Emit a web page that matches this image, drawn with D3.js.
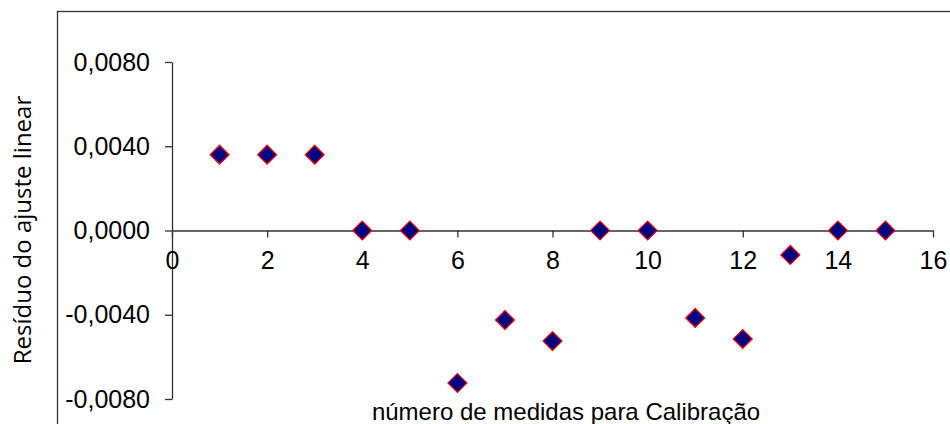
<!DOCTYPE html>
<html>
<head>
<meta charset="utf-8">
<script src="https://cdn.jsdelivr.net/npm/d3@7"></script>
<style>
  body { margin: 0; background: #fff; }
  svg { display: block; }
</style>
</head>
<body>
<div id="chart"></div>
<script>
// dados do gráfico
const medidas = [1, 2, 3, 4, 5, 6, 7, 8, 9, 10, 11, 12, 13, 14, 15];
const residuos = [0.0036, 0.0036, 0.0036, 0, 0, -0.00724, -0.00425, -0.00525, 0, 0, -0.00415, -0.00515, -0.00116, 0, 0];
const xTicks = [0, 2, 4, 6, 8, 10, 12, 14, 16];
const yTicks = [-0.008, -0.004, 0, 0.004, 0.008];

const width = 950, height = 424;

const svg = d3.select("#chart").append("svg")
    .attr("width", width).attr("height", height);

// moldura da área do gráfico
svg.append("rect")
    .attr("x", 57.5).attr("y", 11.5)
    .attr("width", 1000).attr("height", 1000)
    .attr("fill", "none").attr("stroke", "#333").attr("stroke-width", 1.3);

const x = d3.scaleLinear().domain([0, 16]).range([172, 933]);
const y = d3.scaleLinear().domain([-0.008, 0.008]).range([399, 62]);

const fmt = d => d3.format(".4f")(d).replace(".", ",").replace("−", "-");

// eixo y
const yAxis = svg.append("g")
    .attr("transform", `translate(${x(0)},0)`)
    .call(d3.axisLeft(y).tickValues(yTicks).tickSize(7).tickSizeOuter(0).tickPadding(15).tickFormat(fmt));

// eixo x
const xAxis = svg.append("g")
    .attr("transform", `translate(0,${y(0)})`)
    .call(d3.axisBottom(x).tickValues(xTicks).tickSize(7).tickSizeOuter(0).tickPadding(14).tickFormat(d => d));

[xAxis, yAxis].forEach(a => {
    a.select(".domain").attr("stroke", "#333").attr("stroke-width", 1.3);
    a.selectAll(".tick line").attr("stroke", "#333").attr("stroke-width", 1.3);
    a.selectAll(".tick text")
        .style("font-family", "'Liberation Sans', Arial, sans-serif")
        .style("font-size", "25px")
        .attr("fill", "#000");
});

// títulos
svg.append("text")
    .attr("x", 566).attr("y", 420)
    .attr("text-anchor", "middle")
    .style("font-family", "'Liberation Sans', Arial, sans-serif")
    .style("font-size", "24px")
    .text("número de medidas para Calibração");

svg.append("text")
    .attr("transform", `translate(31,${230}) rotate(-90)`)
    .attr("text-anchor", "middle")
    .style("font-family", "'Open Sans', 'Noto Sans', sans-serif")
    .style("font-size", "24px")
    .text("Resíduo do ajuste linear");

// pontos (losangos)
const diamond = d3.symbol().type(d3.symbolSquare).size(180);

svg.append("g").selectAll("path")
    .data(medidas.map((m, i) => ({ m, r: residuos[i] })))
    .join("path")
    .attr("d", diamond)
    .attr("transform", d => `translate(${x(d.m)},${y(d.r)}) rotate(45)`)
    .attr("fill", "#000080")
    .attr("stroke", "#ff0000")
    .attr("stroke-width", 1.2);
</script>
</body>
</html>
